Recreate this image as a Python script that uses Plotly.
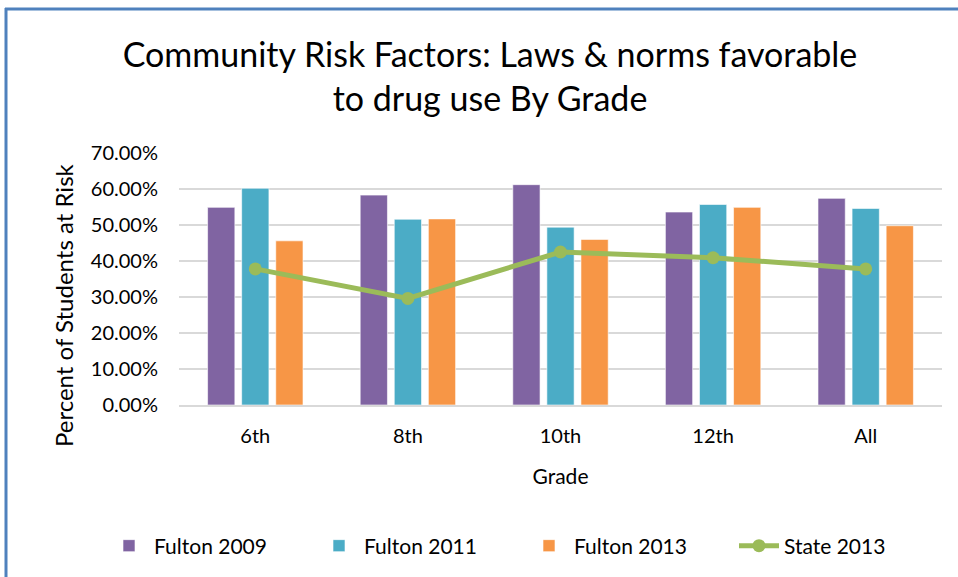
import plotly.graph_objects as go

grades = ["6th", "8th", "10th", "12th", "All"]
fulton_2009 = [0.549, 0.583, 0.612, 0.536, 0.574]
fulton_2011 = [0.602, 0.516, 0.494, 0.557, 0.546]
fulton_2013 = [0.456, 0.517, 0.460, 0.549, 0.498]
state_2013 = [0.378, 0.296, 0.425, 0.409, 0.378]
y_ticks = [0, 0.1, 0.2, 0.3, 0.4, 0.5, 0.6, 0.7]

FONT = "Lato"
W, H = 958, 577
L, R, T, B = 179, 16, 153, 172
pw, ph = W - L - R, H - T - B


def px_x(p):
    return (p - L) / pw


def px_y(p):
    return (H - B - p) / ph


fig = go.Figure()
bar_line = dict(color="rgba(255,255,255,0.6)", width=1)
fig.add_bar(x=grades, y=fulton_2009, name="Fulton 2009",
            marker=dict(color="#8064A2", line=bar_line))
fig.add_bar(x=grades, y=fulton_2011, name="Fulton 2011",
            marker=dict(color="#4BACC6", line=bar_line))
fig.add_bar(x=grades, y=fulton_2013, name="Fulton 2013",
            marker=dict(color="#F79646", line=bar_line))
fig.add_scatter(x=grades, y=state_2013, name="State 2013", mode="lines+markers",
                line=dict(color="#9BBB59", width=5),
                marker=dict(color="#9BBB59", size=13))

border = "#4F81BD"
fig.update_layout(
    width=W, height=H,
    margin=dict(l=L, r=R, t=T, b=B, autoexpand=False),
    paper_bgcolor="white", plot_bgcolor="white",
    font=dict(family=FONT, color="#000000"),
    barmode="group", bargap=0.33, bargroupgap=0.2,
    title=dict(text="Community Risk Factors: Laws & norms favorable<br>to drug use By Grade",
               xref="container", x=490 / W, xanchor="center",
               yref="container", y=1 - 67 / H, yanchor="middle",
               font=dict(size=34, family=FONT, color="#000000")),
    xaxis=dict(showgrid=False, showline=True, linecolor="#D9D9D9", linewidth=1.5,
               ticks="", tickfont=dict(size=20, family=FONT, color="#000000"),
               ticklabelstandoff=12,
               title=dict(text="Grade", font=dict(size=21, family=FONT, color="#000000"),
                          standoff=24)),
    yaxis=dict(range=[0, 0.7], tickvals=y_ticks, tickformat=".2%",
               showgrid=True, gridcolor="#D9D9D9", gridwidth=1.5, zeroline=False,
               showline=False, ticks="", ticklabelstandoff=20,
               tickfont=dict(size=20, family=FONT, color="#000000")),
    annotations=[
        dict(text="Percent of Students at Risk", textangle=-90,
             xref="paper", yref="paper", x=px_x(63), y=px_y(305),
             xanchor="center", yanchor="middle", showarrow=False,
             font=dict(size=24, family=FONT, color="#000000")),
    ],
    legend=dict(orientation="h", x=px_x(104), xanchor="left",
                y=px_y(546), yanchor="middle",
                font=dict(size=21, family=FONT, color="#000000"),
                traceorder="normal", itemwidth=40,
                entrywidth=155, entrywidthmode="pixels"),
    shapes=[
        dict(type="line", xref="paper", yref="paper",
             x0=px_x(5), x1=px_x(W + 5), y0=px_y(9), y1=px_y(9),
             line=dict(color=border, width=3)),
        dict(type="line", xref="paper", yref="paper",
             x0=px_x(6), x1=px_x(6), y0=px_y(8), y1=px_y(H + 5),
             line=dict(color=border, width=3)),
    ],
)

fig.write_html("out.html")
